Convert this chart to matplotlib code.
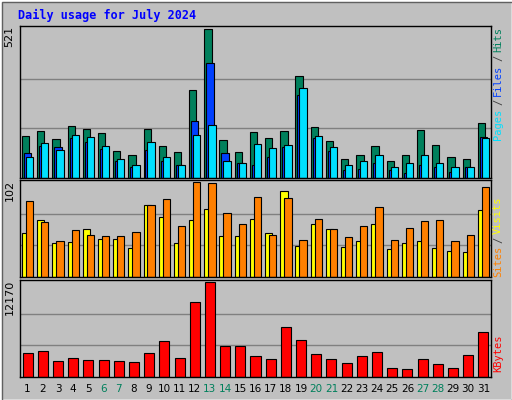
import matplotlib
matplotlib.use("Agg")
import matplotlib.pyplot as plt
from matplotlib.patches import Rectangle

days = list(range(1, 32))
hits = [146,164,136,182,171,157,93,79,171,111,90,309,521,132,90,160,139,164,355,178,128,68,79,111,61,82,167,114,72,68,192]
files = [86,111,107,139,125,100,58,40,97,61,44,199,401,86,54,47,75,107,291,139,93,29,33,51,29,19,47,37,22,40,143]
pages = [75,121,97,150,143,111,68,47,125,75,47,150,185,58,54,118,104,114,316,146,107,47,58,82,37,54,82,54,40,37,139]
sites = [47,61,36,38,51,41,41,31,77,64,37,61,73,44,44,62,47,92,33,57,51,32,39,57,30,37,39,31,28,27,72]
visits = [81,59,39,50,45,44,44,48,77,84,55,102,101,69,57,86,45,85,40,62,52,43,55,75,40,53,60,61,39,45,97]
kbytes = [3076,3344,2006,2407,2140,2140,2006,1872,3076,4547,2407,9629,12170,4012,4012,2675,2274,6419,4681,2942,2274,1739,2675,3210,1204,1070,2274,1605,1204,2808,5751]
weekends = [6,7,13,14,20,21,27,28]

BG = "#C0C0C0"
W, H = 512, 400
fig = plt.figure(figsize=(W/100, H/100), dpi=100, facecolor=BG)

fig.patches.append(Rectangle((0, 0), 1, 1, transform=fig.transFigure, fill=False, ec="white", lw=2))
fig.patches.append(Rectangle((2/W, 0), 1-2/W, 1-2/H, transform=fig.transFigure, fill=False, ec="#606060", lw=1))

fig.text(18/W, 1-15/H, "Daily usage for July 2024", color="#0000FF", fontsize=8.5,
         fontweight="bold", family="DejaVu Sans Mono", va="center", ha="left")

def mkax(top, bottom):
    ax = fig.add_axes([20/W, 1-bottom/H, 471/W, (bottom-top)/H])
    ax.set_facecolor(BG)
    ax.set_xlim(0.5, 31.5)
    ax.set_xticks([])
    ax.set_yticks([])
    for s in ax.spines.values():
        s.set_color("black"); s.set_linewidth(1)
    return ax

def grid(ax, m):
    for f in (1/3, 2/3):
        ax.axhline(m*f, color="#808080", lw=1, zorder=0)
    ax.set_ylim(0, m*1.02)
    ax.text(-0.012, 1, str(m), transform=ax.transAxes, rotation=90, ha="right", va="top",
            fontsize=8, family="DejaVu Sans")

bw = 0.48
ax1 = mkax(26, 178)
grid(ax1, max(hits))
ax1.bar([d-0.37 for d in days], hits, width=bw, align="edge", color="#00805C", ec="black", lw=0.8)
ax1.bar([d-0.24 for d in days], files, width=bw, align="edge", color="#0040FF", ec="black", lw=0.8)
ax1.bar([d-0.11 for d in days], pages, width=bw, align="edge", color="#00E0FF", ec="black", lw=0.8)

ax2 = mkax(180, 277)
grid(ax2, max(visits))
ax2.bar([d-0.37 for d in days], sites, width=bw, align="edge", color="#FFFF00", ec="black", lw=0.8)
ax2.bar([d-0.11 for d in days], visits, width=bw, align="edge", color="#FF8000", ec="black", lw=0.8)

ax3 = mkax(280, 377)
grid(ax3, max(kbytes))
ax3.bar(days, kbytes, width=0.66, color="#FF0000", ec="black", lw=0.8)

for d in days:
    ax3.text(d, -0.12, str(d), transform=ax3.get_xaxis_transform(), ha="center", va="center",
             fontsize=7.5, color="#00805C" if d in weekends else "black")

def rlabel(parts, ytop):
    y = ytop
    for txt, col in parts:
        fig.text(498/W, 1-y/H, txt, rotation=90, ha="center", va="top", color=col,
                 fontsize=7.5, family="DejaVu Sans Mono")
        y += len(txt)*6.3 + 3

rlabel([("Hits", "#00805C"), ("/", "#404040"), ("Files", "#0040FF"), ("/", "#404040"), ("Pages", "#00E0FF")], 27)
rlabel([("Visits", "#FFFF00"), ("/", "#404040"), ("Sites", "#FF8000")], 196)
rlabel([("KBytes", "#FF0000")], 334)

fig.savefig("out.png", dpi=100, facecolor=BG)
